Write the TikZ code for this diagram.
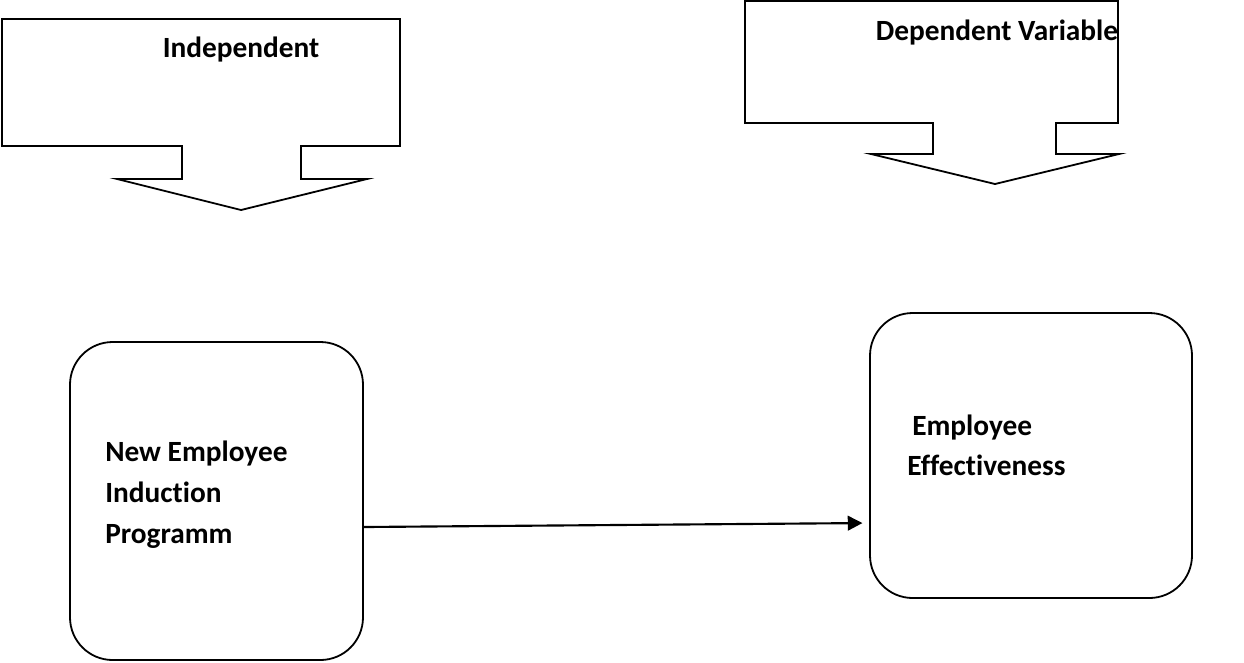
\documentclass[tikz,border=0pt]{standalone}
\usepackage{fontspec}
\setmainfont[Ligatures={NoCommon}]{Carlito}
\usetikzlibrary{arrows.meta}
\begin{document}
\begin{tikzpicture}[x=0.75pt,y=-0.75pt,
  shapeline/.style={draw=black,line width=1.35pt,line join=miter},
  roundbox/.style={draw=black,line width=1.35pt,rounded corners=32pt,inner sep=0pt},
  lbl/.style={anchor=base west,inner sep=0pt,font=\bfseries\fontsize{22}{26}\selectfont},
  lblc/.style={anchor=base,inner sep=0pt,font=\bfseries\fontsize{22}{26}\selectfont},
  conn/.style={line width=1.6pt,-{Triangle[length=11pt,width=11pt]}}]
\useasboundingbox (0,0) rectangle (1244,662);
% callout shapes
\draw[shapeline] (2,19) -- (400,19) -- (400,146) -- (301,146) -- (301,179) -- (367,179)
  -- (241,210) -- (117,179) -- (182,179) -- (182,146) -- (2,146) -- cycle;
\draw[shapeline] (745,1) -- (1118,1) -- (1118,123) -- (1056,123) -- (1056,154) -- (1119,154)
  -- (995,184) -- (871,154) -- (933,154) -- (933,123) -- (745,123) -- cycle;
\node[lblc] (indep) at (241,57) {Independent};
\node[lblc] (dep) at (997,40) {Dependent Variable};
% boxes
\node[roundbox,minimum width=219.75pt,minimum height=238.5pt] (lbox) at (216.5,501) {};
\node[roundbox,minimum width=241.5pt,minimum height=213.75pt] (rbox) at (1031,455.5) {};
\node[lbl] (l1) at (105,461) {New Employee};
\node[lbl] (l2) at (105,502) {Induction};
\node[lbl] (l3) at (105,543) {Programm};
\node[lbl] (r1) at (912,435) {Employee};
\node[lbl] (r2) at (907,475) {Effectiveness};
% connector
\coordinate (a1) at (0,527);
\coordinate (a2) at (0,523);
\draw[conn,shorten >=5pt] (lbox.east |- a1) -- (rbox.west |- a2);
\end{tikzpicture}
\end{document}
